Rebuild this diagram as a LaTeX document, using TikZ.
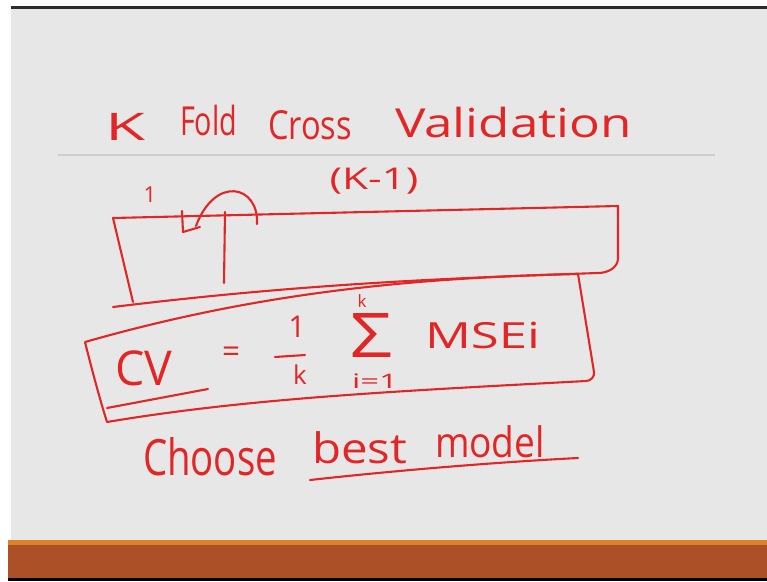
\documentclass[tikz,border=0pt]{standalone}
\usepackage{graphicx}
\usepackage{fontspec}
\setmainfont{Open Sans}
\definecolor{ink}{RGB}{226,38,38}
\definecolor{slidebg}{RGB}{231,231,231}
\definecolor{sepgray}{RGB}{206,206,206}
\definecolor{barorange}{RGB}{222,128,40}
\definecolor{barrust}{RGB}{172,80,40}
\definecolor{topdark}{RGB}{45,45,45}
\newcommand\fw[2]{\resizebox{#1}{\height}{#2}}
\newcommand\fs[1]{\fontsize{#1}{#1}\selectfont}
\tikzset{
  pen/.style={draw=ink, line width=2.1pt, line cap=round, line join=round},
  hand/.style={text=ink, inner sep=0pt, outer sep=0pt},
}
\begin{document}
\begin{tikzpicture}[x=1pt,y=-1pt]
\useasboundingbox (0,0) rectangle (767,581);
% slide background and bands
\fill[white] (0,0) rectangle (767,581);
\fill[slidebg] (11,8) rectangle (767,540);
\fill[topdark] (11,6) rectangle (767,8.5);
\fill[barorange] (8,540) rectangle (767,545);
\fill[barrust] (8,545) rectangle (767,578);
\fill[black] (8,578) rectangle (767,581);
% separator
\draw[sepgray, line width=1.6pt] (58,155) -- (715,155);

% title
\node[hand, anchor=base west, font=\fs{38}] (tK) at (105,140) {\fw{40pt}{K}};
\node[hand, anchor=base west, font=\fs{40}] (tFold) at (180,135) {\fw{57pt}{Fold}};
\node[hand, anchor=base west, font=\fs{40}] (tCross) at (268,139) {\fw{84pt}{Cross}};
\node[hand, anchor=base west, font=\fs{40}] (tVal) at (395,137) {\fw{237pt}{Validation}};

% fold labels
\node[hand, font=\fs{22}] (one) at (150,195) {1};
\node[hand, font=\fs{30}] (kminus) at (374,181) {\fw{89pt}{(K-1)}};

% long data box
\draw[pen] (133,302) -- (113,218) -- (618,206) -- (618,258)
  to[out=-90,in=0] (598,273) .. controls (450,278) and (300,284) .. (113,307);
% divider of the first fold
\draw[pen] (225,212) -- (224,283);
% curved arrow
\draw[pen] (257,224) .. controls (259,185) and (215,175) .. (196,226);
\draw[pen] (182,211) -- (183,232) -- (200,227);

% CV box
\draw[pen] (85,342) .. controls (250,295) and (400,278) .. (578,274)
  -- (594,372) to[out=-80,in=0] (586,381)
  .. controls (400,391) and (250,398) .. (107,422)
  .. controls (100,400) and (92,370) .. (85,342);
% CV underline
\draw[pen] (107,408) -- (208,389);

% formula
\node[hand, anchor=base west, font=\fs{48}] (cv) at (115,385) {\fw{57pt}{CV}};
\node[hand, font=\fs{32}] (eq) at (231,355) {\fw{18pt}{=}};
\node[hand, font=\fs{30}] (num) at (297,327) {1};
\draw[pen] (275,357) -- (305,355);
\node[hand, font=\fs{26}] (den) at (300,375) {k};
\node[hand, font=\fs{60}] (sigma) at (371,335) {\resizebox{42pt}{44pt}{Σ}};
\node[hand, font=\fs{17}] (sup) at (362,301) {k};
\node[hand, font=\fs{20}] (sub) at (375,381) {\fw{46pt}{i=1}};
\node[hand, anchor=base west, font=\fs{36}] (mse) at (425,348) {\fw{115pt}{MSEi}};

% choose best model
\node[hand, anchor=base west, font=\fs{50}] (choose) at (143,475) {\fw{134pt}{Choose}};
\node[hand, anchor=base west, font=\fs{42}] (best) at (312,463) {\fw{95pt}{best}};
\node[hand, anchor=base west, font=\fs{42}] (model) at (435,457) {\fw{110pt}{model}};
\draw[pen] (310,480) .. controls (400,470) and (500,462) .. (578,458);
\end{tikzpicture}
\end{document}
